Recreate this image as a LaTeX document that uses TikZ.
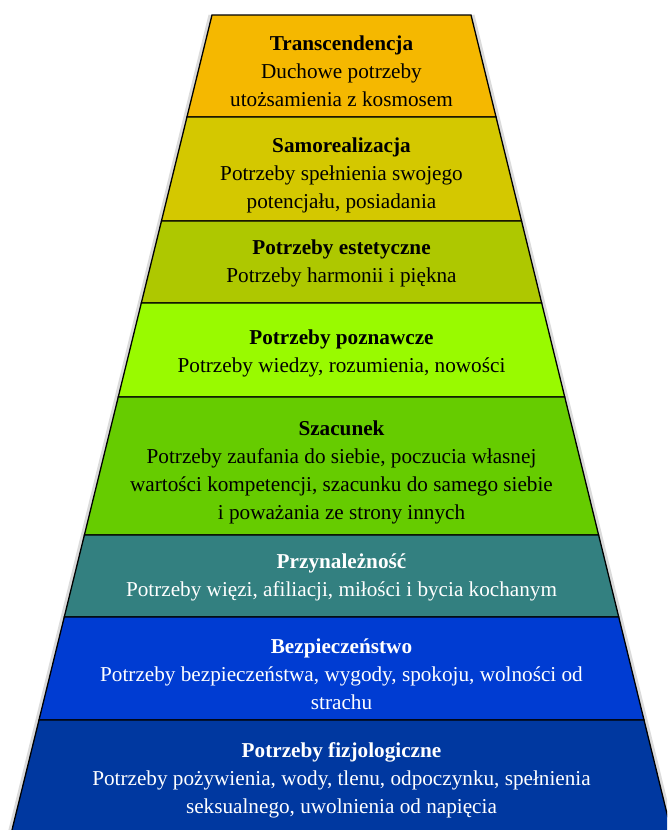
\documentclass[tikz,border=0pt]{standalone}
\usepackage{fontspec}
\setmainfont{Liberation Serif}
\begin{document}
\definecolor{lay1}{HTML}{F5B800}
\definecolor{lay2}{HTML}{D4C800}
\definecolor{lay3}{HTML}{AEC800}
\definecolor{lay4}{HTML}{99FA00}
\definecolor{lay5}{HTML}{66CC00}
\definecolor{lay6}{HTML}{338080}
\definecolor{lay7}{HTML}{003CD2}
\definecolor{lay8}{HTML}{0038A0}
\begin{tikzpicture}[x=1pt,y=-1pt,
  layer/.style={draw=black, line width=1.3pt, line join=miter},
  haze/.style={draw=black!40, line width=4pt, opacity=0.35},
  caption/.style={align=center, font=\fontsize{21.2}{28}\selectfont, inner sep=0pt},
  darktext/.style={caption, text=black},
  lighttext/.style={caption, text=white}]
\useasboundingbox (0,0) rectangle (667,830);
\clip (0,0) rectangle (667,830);
% pyramid levels, bottom edges extended past the lower border
\foreach \ya/\yb/\col in {15/117/lay1, 117/221/lay2, 221/303/lay3, 303/397/lay4,
                          397/535/lay5, 535/617/lay6, 617/720/lay7, 720/845/lay8} {
  \pgfmathsetmacro\xa{212-0.2454*(\ya-15)}
  \pgfmathsetmacro\xb{212-0.2454*(\yb-15)}
  \pgfmathsetmacro\xc{683-\xa}
  \pgfmathsetmacro\xd{683-\xb}
  \draw[haze] (\xa-1.5,\ya) -- (\xb-1.5,\yb);
  \draw[haze] (\xc+1.5,\ya) -- (\xd+1.5,\yb);
  \draw[layer, fill=\col] (\xa,\ya) -- (\xc,\ya) -- (\xd,\yb) -- (\xb,\yb) -- cycle;
}
\node[darktext] (t1) at (341.5,71) {\textbf{Transcendencja}\\Duchowe potrzeby\\utożsamienia z kosmosem};
\node[darktext] (t2) at (341.5,175) {\textbf{Samorealizacja}\\Potrzeby spełnienia swojego\\potencjału, posiadania};
\node[darktext] (t3) at (341.5,263) {\textbf{Potrzeby estetyczne}\\Potrzeby harmonii i piękna};
\node[darktext] (t4) at (341.5,353) {\textbf{Potrzeby poznawcze}\\Potrzeby wiedzy, rozumienia, nowości};
\node[darktext] (t5) at (341.5,472) {\textbf{Szacunek}\\Potrzeby zaufania do siebie, poczucia własnej\\wartości kompetencji, szacunku do samego siebie\\i poważania ze strony innych};
\node[lighttext] (t6) at (341.5,577) {\textbf{Przynależność}\\Potrzeby więzi, afiliacji, miłości i bycia kochanym};
\node[lighttext] (t7) at (341.5,674) {\textbf{Bezpieczeństwo}\\Potrzeby bezpieczeństwa, wygody, spokoju, wolności od\\strachu};
\node[lighttext] (t8) at (341.5,780) {\textbf{Potrzeby fizjologiczne}\\Potrzeby pożywienia, wody, tlenu, odpoczynku, spełnienia\\seksualnego, uwolnienia od napięcia};
\end{tikzpicture}
\end{document}
